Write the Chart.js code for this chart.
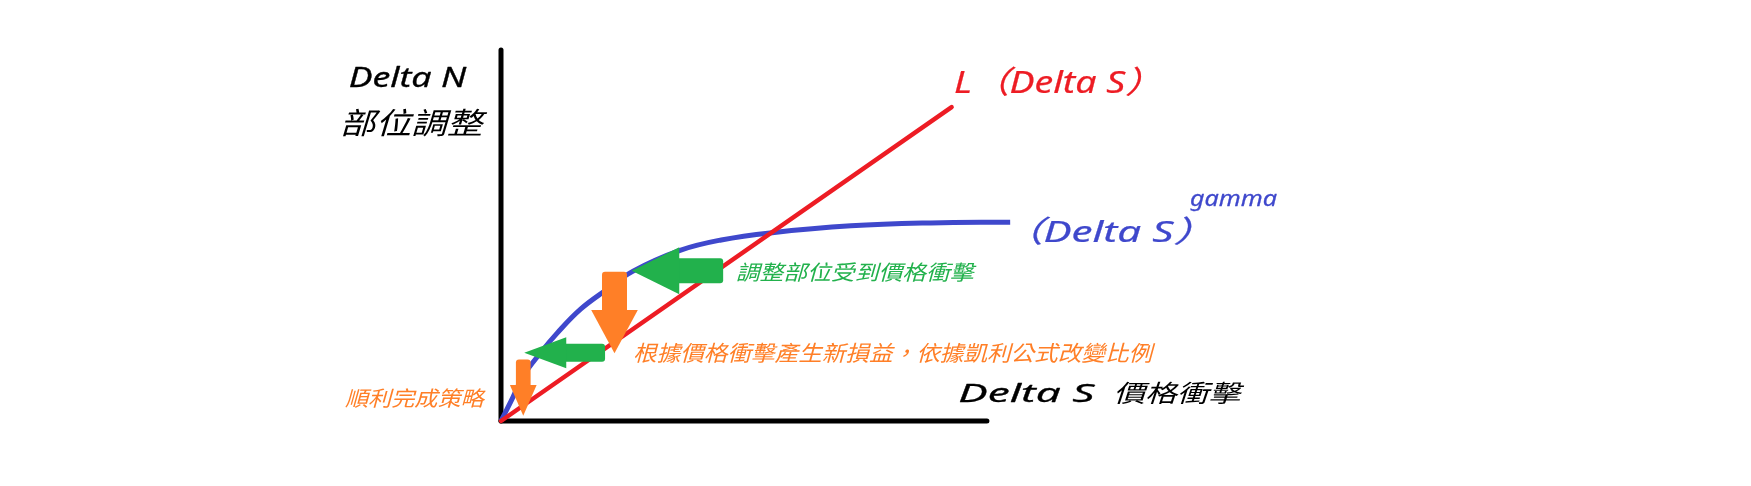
<!DOCTYPE html>
<html lang="zh-Hant">
<head>
<meta charset="utf-8">
<title>Delta N / Delta S</title>
<script src="https://cdn.jsdelivr.net/npm/chart.js@4.4.1/dist/chart.umd.min.js"></script>
<style>
  html, body { margin: 0; padding: 0; background: #fff; }
  #wrap { width: 1751px; height: 486px; }
</style>
</head>
<body>
<div id="wrap"><canvas id="c" width="1751" height="486"></canvas></div>
<script>
// 座標單位: 橫軸 Delta S 0~100, 縱軸 Delta N 0~100
const axisX = [0, 100.4];
const axisY = [0, 100];

// L(Delta S) 直線
const lineX = [0, 93.1];
const lineY = [0, 84.6];

// (Delta S)^gamma 曲線
const curveX = [0, 2.1, 4.5, 8.3, 11.6, 16.5, 21.7, 27.3, 37.0, 45.5, 55.6, 72.3, 88.8, 105.2];
const curveY = [0, 5.4, 11.9, 18.6, 23.7, 30.2, 35.3, 40.4, 46.0, 48.8, 50.7, 52.6, 53.4, 53.6];

// 箭頭 [起點 x, y, 終點 x, y]
const shockArrows = [[45.9, 40.5, 27.0, 40.5], [21.5, 18.4, 4.8, 18.4]];
const rebalanceArrows = [[23.45, 40.2, 23.45, 18.25], [4.6, 16.6, 4.6, 1.4]];

const RED = '#ED1C24', BLUE = '#3F48CC', GREEN = '#22B14C', ORANGE = '#FF7F27';
const LATIN = '"Noto Sans", "Noto Sans CJK TC", sans-serif';
const CJK = '"Noto Sans CJK TC", sans-serif';

// 文字: 墨跡框 [x0, y0, x1, y1] (px), bold = 加粗描邊
const notes = [
  { text: 'Delta N', font: LATIN, size: 26, color: '#000', box: [350, 66.5, 467, 87], bold: 0.3 },
  { text: '部位調整', font: CJK, size: 32, color: '#000', box: [342, 108, 488, 137] },
  { text: 'L（Delta S）', font: LATIN, size: 38, color: RED, box: [955, 66.7, 1143, 96.7], bold: 0.3 },
  { text: '（Delta S）', font: LATIN, size: 36, color: BLUE, box: [1031.7, 216, 1193.3, 245], bold: 0.3 },
  { text: 'gamma', font: LATIN, size: 20, color: BLUE, box: [1190, 195, 1276.7, 211.7], bold: 0.25 },
  { text: 'Delta S', font: LATIN, size: 27, color: '#000', box: [960, 382, 1096.7, 402.3], bold: 0.3 },
  { text: '價格衝擊', font: CJK, size: 27, color: '#000', box: [1116.7, 381.7, 1245, 405] },
  { text: '調整部位受到價格衝擊', font: CJK, size: 23, color: GREEN, box: [736.7, 261.7, 976.7, 281.7] },
  { text: '根據價格衝擊產生新損益，依據凱利公式改變比例', font: CJK, size: 24, color: ORANGE, box: [635, 341.7, 1156, 363.3] },
  { text: '順利完成策略', font: CJK, size: 23, color: ORANGE, box: [345, 388.3, 486.7, 408.3] },
];

const arrowStyles = {
  shock: [
    { shaft: 25, head: 47, headLen: 47.6 },
    { shaft: 18, head: 31, headLen: 42 },
  ],
  rebalance: [
    { shaft: 25, head: 46.6, headLen: 43.3 },
    { shaft: 14.7, head: 26.7, headLen: 30.7 },
  ],
};

const pts = (xs, ys) => xs.map((x, i) => ({ x, y: ys[i] }));

function fitText(ctx, n) {
  const [x0, y0, x1, y1] = n.box;
  ctx.font = `italic ${n.size}px ${n.font}`;
  const m = ctx.measureText(n.text);
  const sx = (x1 - x0) / (m.actualBoundingBoxLeft + m.actualBoundingBoxRight);
  const sy = (y1 - y0) / (m.actualBoundingBoxAscent + m.actualBoundingBoxDescent);
  ctx.save();
  ctx.translate(x0 + m.actualBoundingBoxLeft * sx, y0 + m.actualBoundingBoxAscent * sy);
  ctx.scale(sx, sy);
  ctx.fillStyle = n.color;
  ctx.textAlign = 'left';
  ctx.textBaseline = 'alphabetic';
  ctx.fillText(n.text, 0, 0);
  if (n.bold) {
    ctx.strokeStyle = n.color;
    ctx.lineWidth = n.bold;
    ctx.lineJoin = 'round';
    ctx.strokeText(n.text, 0, 0);
  }
  ctx.restore();
}

function drawArrow(ctx, x1, y1, x2, y2, s, color) {
  const len = Math.hypot(x2 - x1, y2 - y1);
  const hw = s.shaft / 2, hh = s.head / 2, body = len - s.headLen;
  ctx.save();
  ctx.translate(x1, y1);
  ctx.rotate(Math.atan2(y2 - y1, x2 - x1));
  ctx.fillStyle = color;
  ctx.beginPath();
  ctx.roundRect(0, -hw, body + 1, s.shaft, [3, 0, 0, 3]);
  ctx.fill();
  ctx.beginPath();
  ctx.moveTo(body, -hh);
  ctx.lineTo(len, 0);
  ctx.lineTo(body, hh);
  ctx.closePath();
  ctx.fill();
  ctx.restore();
}

const sketch = {
  id: 'sketch',
  afterDatasetsDraw(chart) {
    const { ctx, scales: { x, y } } = chart;
    const put = (list, styles, color) => list.forEach((a, i) => drawArrow(ctx,
      x.getPixelForValue(a[0]), y.getPixelForValue(a[1]),
      x.getPixelForValue(a[2]), y.getPixelForValue(a[3]), styles[i], color));
    put(shockArrows, arrowStyles.shock, GREEN);
    put(rebalanceArrows, arrowStyles.rebalance, ORANGE);
  },
  afterDraw(chart) {
    notes.forEach((n) => fitText(chart.ctx, n));
  },
};

const lineDs = (data, color, width, extra = {}) => ({
  data, showLine: true, borderColor: color, borderWidth: width,
  pointRadius: 0, clip: false, ...extra,
});

new Chart(document.getElementById('c'), {
  type: 'scatter',
  data: {
    datasets: [
      lineDs(pts(lineX, lineY), RED, 4.5, { borderCapStyle: 'round' }),
      lineDs(pts(curveX, curveY), BLUE, 5, { tension: 0.4 }),
      lineDs(pts(axisX, [0, 0]), '#000', 5, { borderCapStyle: 'round' }),
      lineDs(pts([0, 0], axisY), '#000', 5, { borderCapStyle: 'round' }),
    ],
  },
  options: {
    responsive: false,
    animation: false,
    events: [],
    layout: { padding: { left: 501, right: 766, top: 50, bottom: 65 } },
    scales: {
      x: { type: 'linear', min: 0, max: 100, display: false },
      y: { type: 'linear', min: 0, max: 100, display: false },
    },
    plugins: { legend: { display: false }, tooltip: { enabled: false } },
  },
  plugins: [sketch],
});
</script>
</body>
</html>
